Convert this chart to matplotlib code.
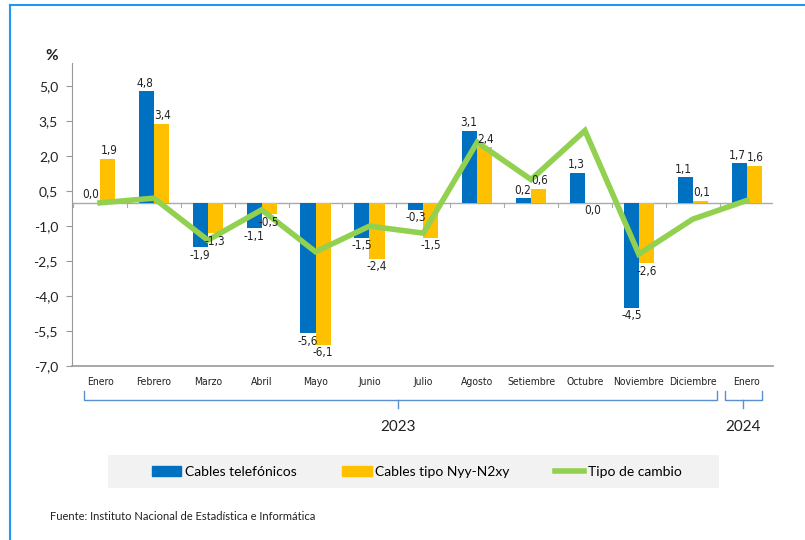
import numpy as np
import matplotlib.pyplot as plt
from matplotlib.patches import Patch, Rectangle
from matplotlib.lines import Line2D
from matplotlib import font_manager
import matplotlib.transforms as mtransforms

# data
months = ['Enero', 'Febrero', 'Marzo', 'Abril', 'Mayo', 'Junio', 'Julio', 'Agosto',
          'Setiembre', 'Octubre', 'Noviembre', 'Diciembre', 'Enero']
cables_tel = [0.0, 4.8, -1.9, -1.1, -5.6, -1.5, -0.3, 3.1, 0.2, 1.3, -4.5, 1.1, 1.7]
cables_nyy = [1.9, 3.4, -1.3, -0.5, -6.1, -2.4, -1.5, 2.4, 0.6, 0.0, -2.6, 0.1, 1.6]
tipo_cambio = [0.0, 0.2, -1.6, -0.3, -2.1, -1.0, -1.3, 2.6, 1.0, 3.1, -2.2, -0.7, 0.1]
yticks = [-7.0, -5.5, -4.0, -2.5, -1.0, 0.5, 2.0, 3.5, 5.0]
years = ['2023', '2024']

BLUE = '#0070C0'
YELLOW = '#FFC000'
GREEN = '#92D050'
calib = 'Lato'

# pick a narrow font for the small labels (like Arial Narrow)
narrow_font = None
for f in font_manager.fontManager.ttflist:
    if f.name == 'Liberation Sans Narrow' and f.weight in (400, 'normal', 'regular') and f.style == 'normal':
        narrow_font = font_manager.FontProperties(fname=f.fname)
        break
if narrow_font is None:
    for f in font_manager.fontManager.ttflist:
        if 'Condensed' in f.fname and 'DejaVuSans' in f.fname and 'Bold' not in f.fname and 'Oblique' not in f.fname and 'Mono' not in f.fname:
            narrow_font = font_manager.FontProperties(fname=f.fname)
            break
if narrow_font is None:
    narrow_font = font_manager.FontProperties(family='DejaVu Sans')

def nf(size):
    p = narrow_font.copy()
    p.set_size(size)
    return p

fig = plt.figure(figsize=(8.05, 5.40), dpi=100)
ax = fig.add_axes([72/805, 1-366/540, 701/805, 303/540])

x = np.arange(len(months))
w = 0.28
ax.bar(x - w/2, cables_tel, w, color=BLUE, zorder=2)
ax.bar(x + w/2, cables_nyy, w, color=YELLOW, zorder=2)
ax.plot(x, tipo_cambio, color=GREEN, lw=4, zorder=3, solid_joinstyle='miter')

# value labels
def fmt(v):
    return ('%.1f' % v).replace('.', ',')

for xi, v in zip(x - w/2, cables_tel):
    above = v >= 0
    ax.annotate(fmt(v), (xi, v), xytext=(-1 if above else 0, 1 if above else -1),
                textcoords='offset points', ha='center', va='bottom' if above else 'top',
                fontproperties=nf(8.5), color='#222222', zorder=4)
for xi, v in zip(x + w/2, cables_nyy):
    above = v > 0
    ax.annotate(fmt(v), (xi, v), xytext=(1 if above else 0, 1 if above else -1),
                textcoords='offset points', ha='center', va='bottom' if above else 'top',
                fontproperties=nf(8.5), color='#222222', zorder=4)

ax.set_xlim(-0.52, 12.49)
ax.set_ylim(-7.0, 6.0)
ax.set_yticks(yticks)
ax.set_yticklabels([fmt(t) for t in yticks], family=calib, fontsize=10, color='#222222')
ax.tick_params(axis='y', length=4, color='#999999', pad=6)
ax.set_xticks(x)
ax.set_xticklabels(months, fontproperties=nf(7.5), color='#222222')
ax.tick_params(axis='x', length=0, pad=8)

for s in ['top', 'right']:
    ax.spines[s].set_visible(False)
ax.spines['left'].set_color('#999999')
ax.spines['bottom'].set_color('#999999')
ax.spines['bottom'].set_linewidth(1.2)

# zero line with category ticks
ax.axhline(0, color='#aaaaaa', lw=1, zorder=1)
for b in np.arange(-0.5, 13.0, 1.0):
    ax.plot([b, b], [0, -0.17], color='#aaaaaa', lw=0.8, zorder=1)

bt = mtransforms.blended_transform_factory(ax.transData, ax.transAxes)
ax.text(-0.9, 1.0, '%', transform=bt, fontsize=11, fontweight='bold', family=calib,
        ha='center', va='bottom', color='#222222')

# year brackets
bc = '#5b8fd0'
for x0, x1, xc, label in [(-0.3, 11.45, 5.53, years[0]), (11.6, 12.28, 11.93, years[1])]:
    ax.plot([x0, x0, x1, x1], [-0.083, -0.112, -0.112, -0.083], color=bc, lw=1,
            transform=bt, clip_on=False)
    ax.plot([xc, xc], [-0.112, -0.14], color=bc, lw=1, transform=bt, clip_on=False)
    ax.text(xc, -0.2, label, transform=bt, ha='center', va='center', fontsize=11,
            family=calib, color='#222222')

# legend on a light grey band
fig.add_artist(Rectangle((108/805, 1-488/540), 611/805, 33/540, transform=fig.transFigure,
                         facecolor='#f2f2f2', edgecolor='none', zorder=0))
handles = [Patch(color=BLUE), Patch(color=YELLOW), Line2D([], [], color=GREEN, lw=4)]
labels = ['Cables telefónicos', 'Cables tipo Nyy-N2xy', 'Tipo de cambio']
fig.legend(handles, labels, loc='center', ncol=3,
           bbox_to_anchor=(417/805, 1-471.5/540), frameon=False,
           prop={'family': calib, 'size': 10}, handlelength=2.1, handleheight=0.75,
           handletextpad=0.25, columnspacing=3.3)

fig.text(50/805, 1-517/540, 'Fuente: Instituto Nacional de Estadística e Informática',
         fontsize=8, family=calib, va='center', ha='left', color='#222222')

# outer frame
fig.add_artist(Line2D([10/805, 1], [1-4.5/540, 1-4.5/540], color='#2196F3', lw=1.5,
                      transform=fig.transFigure))
fig.add_artist(Line2D([10/805, 10/805], [0, 1-4.5/540], color='#2196F3', lw=1.5,
                      transform=fig.transFigure))

fig.savefig('out.png', dpi=100)
